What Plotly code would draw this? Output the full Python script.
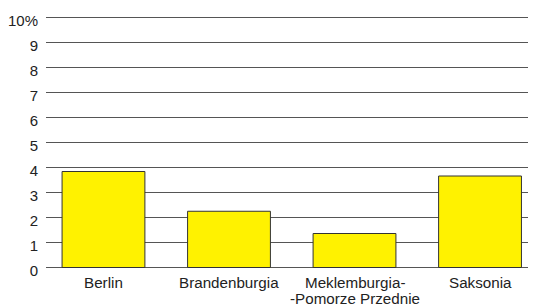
import plotly.graph_objects as go

categories = ["Berlin", "Brandenburgia", "Meklemburgia-<br>-Pomorze Przednie", "Saksonia"]
values = [3.84, 2.25, 1.36, 3.66]
tick_vals = [0, 1, 2, 3, 4, 5, 6, 7, 8, 9, 10]
tick_text = ["0", "1", "2", "3", "4", "5", "6", "7", "8", "9", "10%"]

PLOT_H = 253  # px height of plotting area
FONT = "Liberation Sans, Arial, sans-serif"
TXT = "#222222"

fig = go.Figure(go.Bar(
    x=list(range(len(categories))),
    y=values,
    width=0.66,
    marker=dict(color="#FFF200", line=dict(color="#333333", width=1)),
))

# category labels (split lines placed explicitly to mimic tight line spacing)
for i, cat in enumerate(categories):
    lines = cat.split("<br>")
    for j, line in enumerate(lines):
        fig.add_annotation(
            x=i, xref="x", y=-(14.5 + 15.5 * j) / PLOT_H, yref="paper",
            text=line, showarrow=False, xanchor="center", yanchor="middle",
            font=dict(family=FONT, size=15.2, color=TXT),
        )

fig.update_layout(
    width=528, height=298,
    margin=dict(l=38, r=0, t=7, b=38, autoexpand=False),
    paper_bgcolor="white", plot_bgcolor="white",
    font=dict(family=FONT, size=15, color=TXT),
    showlegend=False,
)
fig.update_xaxes(
    range=[-0.458, 3.446],
    showticklabels=False,
    showgrid=False, zeroline=False, showline=False, ticks="",
    automargin=False,
)
fig.update_yaxes(
    range=[-0.02, 10.1],
    tickvals=tick_vals, ticktext=tick_text,
    tickfont=dict(family=FONT, size=15, color=TXT),
    showgrid=True, gridcolor="#555555", gridwidth=1,
    zeroline=True, zerolinecolor="#555555", zerolinewidth=1,
    ticks="", ticklabelstandoff=7, ticklabelshift=3, automargin=False,
)

fig.write_html("out.html")
